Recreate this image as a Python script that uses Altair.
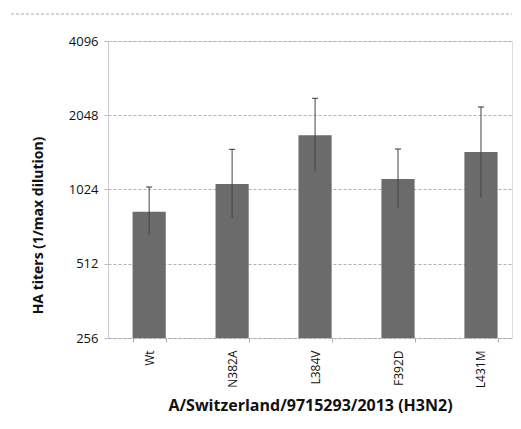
import altair as alt
import pandas as pd

categories = ["Wt", "N382A", "L384V", "F392D", "L431M"]
titers = [832, 1078, 1698, 1130, 1453]
err_low = [670, 783, 1214, 859, 949]
err_high = [1048, 1490, 2399, 1494, 2212]
y_ticks = [256, 512, 1024, 2048, 4096]

df = pd.DataFrame({"cat": categories, "v": titers, "lo": err_low, "hi": err_high})

W = 404
H = 297
FONT = "Open Sans"

xenc = alt.X(
    "cat:N",
    sort=categories,
    scale=alt.Scale(paddingInner=0.6, paddingOuter=0.235, align=0.63),
    axis=alt.Axis(
        title="A/Switzerland/9715293/2013 (H3N2)",
        titleFont=FONT, titleFontSize=16, titleFontWeight="bold", titleColor="#111",
        titlePadding=10,
        labelAngle=-90, labelFont=FONT, labelFontSize=12, labelColor="#111",
        labelPadding=8,
        domainColor="#aaaaaa", domainDash=[3, 2],
        tickBand="extent", tickSize=4, tickColor="#aaaaaa",
    ),
)

yscale = alt.Scale(type="log", base=2, domain=[256, 4096])

bars = alt.Chart(df).mark_bar(color="#6b6b6b").encode(
    x=xenc,
    y=alt.Y(
        "v:Q",
        scale=yscale,
        axis=alt.Axis(
            values=y_ticks, format="d",
            title="HA titers (1/max dilution)",
            titleFont=FONT, titleFontSize=14, titleFontWeight="bold", titleColor="#111",
            titleY=184, titlePadding=23,
            labelFont=FONT, labelFontSize=13, labelColor="#111", labelPadding=6,
            grid=True, gridColor="#b0b0b0", gridDash=[3, 2],
            domainColor="#cccccc", tickColor="#bbbbbb", tickSize=4,
        ),
    ),
    y2=alt.datum(256),
)

err = alt.Chart(df).mark_rule(color="#444444", strokeWidth=1).encode(
    x=alt.X("cat:N", sort=categories),
    y=alt.Y("lo:Q", scale=yscale),
    y2="hi:Q",
)

caps = alt.Chart(df).mark_rule(color="#333333", strokeWidth=1, xOffset=-3, x2Offset=3).encode(
    x=alt.X("cat:N", sort=categories),
    x2=alt.X2("cat:N"),
    y=alt.Y("hi:Q", scale=yscale),
)

top_line = alt.Chart(pd.DataFrame({"a": [0]})).mark_rule(
    color="#aaaaaa", strokeDash=[3, 2], strokeWidth=1
).encode(
    x=alt.value(-97), x2=alt.value(W), y=alt.value(-27), y2=alt.value(-27)
)

chart = alt.layer(bars, err, caps, top_line).properties(
    width=W, height=H,
    padding={"left": 2, "top": 5, "right": 0, "bottom": 3},
).configure_view(stroke=None).configure(background="white")

chart.save("out.html", embed_options={"renderer": "svg", "actions": False})
